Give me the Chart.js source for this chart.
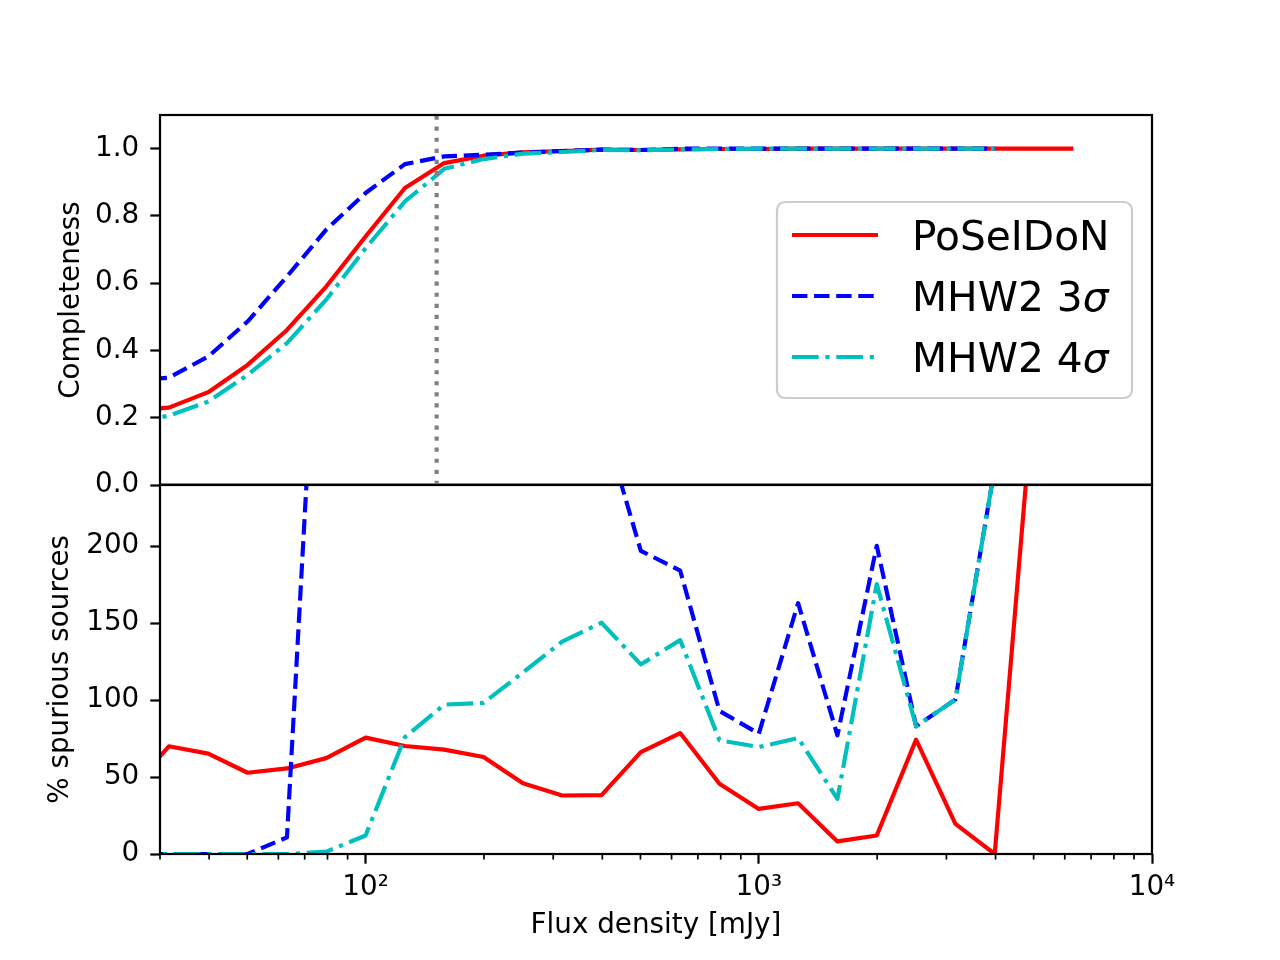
<!DOCTYPE html>
<html>
<head>
<meta charset="utf-8">
<script src="https://cdn.jsdelivr.net/npm/chart.js@4.4.0/dist/chart.umd.min.js"></script>
<style>
html, body { margin: 0; padding: 0; background: #fff; }
#wrap { position: relative; width: 1280px; height: 960px; }
canvas { position: absolute; left: 0; }
#completeness-chart { top: 0; }
#spurious-chart { top: 457px; }
</style>
</head>
<body>
<div id="wrap">
<canvas id="spurious-chart" width="1280" height="503"></canvas>
<canvas id="completeness-chart" width="1280" height="520"></canvas>
</div>
<script>
// flux bins [mJy]
const fluxBins = [25.1, 31.6, 39.8, 50.1, 63.1, 79.4, 100, 125.9, 158.5, 199.5, 251.2, 316.2, 398.1,
    501.2, 631.0, 794.3, 1000, 1258.9, 1584.9, 1995.3, 2511.9, 3162.3, 3981.1, 5011.9, 6309.6];

// completeness
const complPoseidon = [0.22, 0.230, 0.276, 0.357, 0.461, 0.590, 0.739, 0.883, 0.957, 0.979, 0.989, 0.993, 0.997,
    0.996, 0.998, 0.999, 0.999, 1.0, 1.0, 1.0, 1.0, 1.0, 1.0, 1.0, 1.0];
const complMhw3 = [0.31, 0.319, 0.382, 0.486, 0.620, 0.759, 0.868, 0.954, 0.977, 0.982, 0.988, 0.993, 0.997,
    0.996, 1.0, 1.0, 1.0, 1.0, 1.0, 1.0, 1.0, 1.0, 1.0];
const complMhw4 = [0.185, 0.206, 0.248, 0.327, 0.422, 0.551, 0.704, 0.843, 0.940, 0.969, 0.985, 0.990, 0.996,
    0.995, 0.998, 0.999, 1.0, 1.0, 1.0, 1.0, 1.0, 1.0, 1.0];

// % spurious sources
const spurPoseidon = [41, 70, 65.2, 52.8, 55.6, 62.3, 75.6, 70.2, 67.8, 63, 46, 38, 38.3,
    66.2, 78.6, 45.6, 29.3, 33, 8.2, 12, 74.3, 19.6, 0, 304, 360];
const spurMhw3 = [0, 0, 0, 0, 10.8, 473, 520, 560, 540, 480, 400, 330, 284,
    197, 184.2, 93, 78.2, 163, 77.1, 200.3, 83, 100.4, 251];
const spurMhw4 = [0, 0, 0, 0, 0, 1.5, 12, 76, 97.1, 98.2, 118, 138, 150.3,
    123.2, 139, 73.9, 69.5, 75.4, 35.8, 175.4, 83, 100.4, 251];

const fluxCut = 151.6;

const legendLabels = ['PoSeIDoN', 'MHW2 3σ', 'MHW2 4σ'];
const complTicks = [0, 0.2, 0.4, 0.6, 0.8, 1.0];
const spurTicks = [0, 50, 100, 150, 200];
const xMajorTicks = [100, 1000, 10000];
const xTickLabels = ['10²', '10³', '10⁴'];
const xMinorTicks = [30, 40, 50, 60, 70, 80, 90, 200, 300, 400, 500, 600, 700, 800, 900,
    2000, 3000, 4000, 5000, 6000, 7000, 8000, 9000];

Chart.defaults.font.family = 'DejaVu Sans';
Chart.defaults.font.size = 27.8;
Chart.defaults.color = '#000';

const LW = 4.17;
const red = '#ff0000', blue = '#0000ff', cyan = '#00bfbf';

function toPoints(ys) {
    return ys.map((y, i) => ({x: fluxBins[i], y: y}));
}

function lineSet(label, ys, color, dash, order) {
    return {
        label: label,
        data: toPoints(ys),
        borderColor: color,
        borderWidth: LW,
        borderDash: dash,
        borderJoinStyle: 'round',
        pointRadius: 0,
        tension: 0,
        fill: false,
        order: order
    };
}

const frame = {
    id: 'frame',
    afterDraw(chart) {
        const { ctx, chartArea: {left, top, right, bottom} } = chart;
        ctx.save();
        ctx.strokeStyle = '#000';
        ctx.lineWidth = 2.2;
        ctx.strokeRect(left, top, right - left, bottom - top);
        ctx.restore();
    }
};

const minorTicks = {
    id: 'minorTicks',
    afterDraw(chart) {
        const { ctx, chartArea: {bottom}, scales: {x} } = chart;
        ctx.save();
        ctx.strokeStyle = '#000';
        ctx.lineWidth = 1.7;
        xMinorTicks.forEach(v => {
            const px = x.getPixelForValue(v);
            ctx.beginPath();
            ctx.moveTo(px, bottom);
            ctx.lineTo(px, bottom + 5.6);
            ctx.stroke();
        });
        ctx.restore();
    }
};

const legendBox = {
    id: 'legendBox',
    afterDraw(chart) {
        const ctx = chart.ctx;
        ctx.save();
        ctx.beginPath();
        ctx.roundRect(777, 202, 355, 196, 8);
        ctx.fillStyle = 'rgba(255,255,255,0.8)';
        ctx.fill();
        ctx.strokeStyle = '#cccccc';
        ctx.lineWidth = 2.2;
        ctx.stroke();

        const baselines = [250, 311, 372];
        legendLabels.forEach((lab, i) => {
            const ds = chart.data.datasets[i];
            const y = baselines[i];
            ctx.beginPath();
            ctx.strokeStyle = ds.borderColor;
            ctx.lineWidth = ds.borderWidth;
            ctx.setLineDash(ds.borderDash);
            ctx.moveTo(792, y - 15);
            ctx.lineTo(878, y - 15);
            ctx.stroke();
            ctx.setLineDash([]);

            ctx.fillStyle = '#000';
            ctx.textBaseline = 'alphabetic';
            ctx.textAlign = 'left';
            ctx.font = '40.7px "DejaVu Sans"';
            if (lab.endsWith('σ')) {
                const head = lab.slice(0, -1);
                ctx.fillText(head, 912, y);
                const w = ctx.measureText(head).width;
                ctx.font = 'italic 40.7px "DejaVu Sans"';
                ctx.fillText('σ', 912 + w, y);
            } else {
                ctx.fillText(lab, 912, y);
            }
        });
        ctx.restore();
    }
};

const xScale = {
    type: 'logarithmic',
    min: 30,
    max: 10000
};

new Chart('completeness-chart', {
    type: 'line',
    data: {
        datasets: [
            lineSet('PoSeIDoN', complPoseidon, red, [], 3),
            lineSet('MHW2 3σ', complMhw3, blue, [15.4, 6.7], 2),
            lineSet('MHW2 4σ', complMhw4, cyan, [26.7, 6.7, 4.2, 6.7], 1),
            {
                label: 'cut',
                data: [{x: fluxCut, y: 0}, {x: fluxCut, y: 1.1}],
                borderColor: '#808080',
                borderWidth: LW,
                borderDash: [4.17, 6.9],
                borderCapStyle: 'butt',
                pointRadius: 0,
                order: 0
            }
        ]
    },
    options: {
        responsive: false,
        animation: false,
        events: [],
        layout: { padding: {left: 0, right: 128, top: 115, bottom: 35} },
        plugins: { legend: {display: false}, tooltip: {enabled: false} },
        scales: {
            x: Object.assign({}, xScale, { display: false }),
            y: {
                min: 0,
                max: 1.1,
                afterFit(scale) { scale.width = 160; },
                afterBuildTicks(scale) { scale.ticks = complTicks.map(v => ({value: v})); },
                ticks: {
                    padding: 11,
                    callback: v => v.toFixed(1)
                },
                grid: {
                    drawOnChartArea: false,
                    tickLength: 9.7,
                    tickWidth: 2.2,
                    tickColor: '#000'
                },
                border: { display: false },
                title: {
                    display: true,
                    text: 'Completeness',
                    padding: {top: 55, bottom: 0}
                }
            }
        }
    },
    plugins: [frame, legendBox]
});

new Chart('spurious-chart', {
    type: 'line',
    data: {
        datasets: [
            lineSet('PoSeIDoN', spurPoseidon, red, [], 3),
            lineSet('MHW2 3σ', spurMhw3, blue, [15.4, 6.7], 2),
            lineSet('MHW2 4σ', spurMhw4, cyan, [26.7, 6.7, 4.2, 6.7], 1)
        ]
    },
    options: {
        responsive: false,
        animation: false,
        events: [],
        layout: { padding: {left: 0, right: 128, top: 5, bottom: 0} },
        plugins: { legend: {display: false}, tooltip: {enabled: false} },
        scales: {
            x: Object.assign({}, xScale, {
                afterFit(scale) { scale.height = 106; },
                afterBuildTicks(scale) { scale.ticks = xMajorTicks.map(v => ({value: v, major: true})); },
                ticks: {
                    padding: 7,
                    maxRotation: 0,
                    autoSkip: false,
                    callback: (v, i) => xTickLabels[i]
                },
                grid: {
                    drawOnChartArea: false,
                    tickLength: 9.7,
                    tickWidth: 2.2,
                    tickColor: '#000'
                },
                border: { display: false },
                title: {
                    display: true,
                    text: 'Flux density [mJy]',
                    padding: {top: 0, bottom: 18}
                }
            }),
            y: {
                min: 0,
                max: 240,
                afterFit(scale) { scale.width = 160; },
                afterBuildTicks(scale) { scale.ticks = spurTicks.map(v => ({value: v})); },
                ticks: {
                    padding: 11,
                    callback: v => String(v)
                },
                grid: {
                    drawOnChartArea: false,
                    tickLength: 9.7,
                    tickWidth: 2.2,
                    tickColor: '#000'
                },
                border: { display: false },
                title: {
                    display: true,
                    text: '% spurious sources',
                    padding: {top: 44, bottom: 0}
                }
            }
        }
    },
    plugins: [frame, minorTicks]
});
</script>
</body>
</html>
